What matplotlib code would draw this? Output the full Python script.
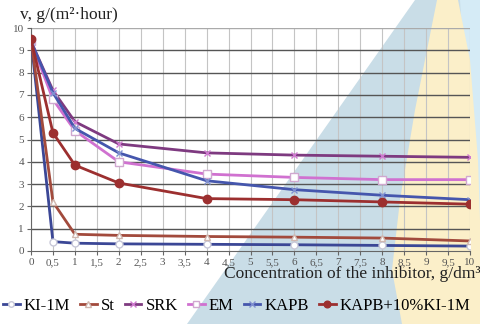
import numpy as np
import matplotlib
matplotlib.use("Agg")
import matplotlib.pyplot as plt
from matplotlib.patches import Polygon

plt.rcParams['font.family'] = ['Liberation Serif', 'DejaVu Serif']

conc = [0, 0.5, 1, 2, 4, 6, 8, 10]
ki1m = [9.5, 0.42, 0.35, 0.32, 0.3, 0.28, 0.25, 0.22]
st = [9.5, 2.2, 0.75, 0.7, 0.65, 0.62, 0.58, 0.45]
srk = [9.4, 7.2, 5.8, 4.8, 4.4, 4.3, 4.25, 4.2]
em = [9.4, 6.8, 5.4, 4.0, 3.45, 3.3, 3.2, 3.2]
kapb = [9.4, 7.1, 5.5, 4.4, 3.15, 2.75, 2.5, 2.3]
kapb_ki = [9.5, 5.3, 3.85, 3.05, 2.35, 2.3, 2.2, 2.1]

x_ticks = np.arange(0, 10.01, 0.5)
x_labels = ['0', '0,5', '1', '1,5', '2', '2,5', '3', '3,5', '4', '4,5', '5',
            '5,5', '6', '6,5', '7', '7,5', '8', '8,5', '9', '9,5', '10']

fig = plt.figure(figsize=(4.81, 3.24), dpi=100)

# decorative background shapes (figure coords)
W, H = 481.0, 324.0
def fp(pts):
    return [(x / W, 1 - y / H) for x, y in pts]

fig.patches.append(Polygon(fp([(415, 0), (481, 0), (481, 324), (187, 324)]),
                           closed=True, transform=fig.transFigure,
                           facecolor='#c9dde7', edgecolor='none', zorder=0))
fig.patches.append(Polygon(fp([(460, 0), (481, 0), (481, 324)]),
                           closed=True, transform=fig.transFigure,
                           facecolor='#d5ebf6', edgecolor='none', zorder=0))
fig.patches.append(Polygon(fp([(437, 0), (458, 0), (470, 60), (478, 160),
                               (481, 250), (481, 324), (402, 324), (392, 270),
                               (400, 200), (415, 110)]),
                           closed=True, transform=fig.transFigure,
                           facecolor='#fbefc9', edgecolor='none', zorder=0))

ax = fig.add_axes([31 / W, 1 - 251 / H, (470 - 31) / W, (251 - 28) / H])
ax.set_zorder(2)
ax.set_facecolor('none')
ax.set_xlim(0, 10)
ax.set_ylim(0, 10)

ax.set_xticks(x_ticks)
ax.set_xticklabels(x_labels)
ax.set_yticks(range(0, 11))
ax.tick_params(labelsize=8, colors='#666666', length=3, width=0.8, pad=2)
for lab in ax.get_xticklabels() + ax.get_yticklabels():
    lab.set_color('#555555')

for v in x_ticks:
    ax.axvline(v, color='#c4c4c4', lw=0.8, zorder=1)
for v in range(1, 11):
    ax.axhline(v, color='#555555' if v < 10 else '#aaaaaa', lw=1.0, zorder=1)

for s in ['top', 'right']:
    ax.spines[s].set_visible(False)
ax.spines['left'].set_color('#666666')
ax.spines['bottom'].set_color('#666666')

ax.plot(conc, ki1m, '-o', color='#3b4796', lw=2, ms=5,
        mfc='white', mec='#c8c8d8', label='KI-1M', zorder=3)
ax.plot(conc, st, '-^', color='#a24a3c', lw=2, ms=5,
        mfc='white', mec='#d0b8b0', label='St', zorder=3)
ax.plot(conc, srk, '-x', color='#7e3a80', lw=2, ms=5,
        mec='#d07ad0', label='SRK', zorder=3)
ax.plot(conc, em, '-s', color='#d071d0', lw=2, ms=6,
        mfc='white', mec='#d0a8d0', label='EM', zorder=3)
ax.plot(conc, kapb, '-x', color='#4556ad', lw=2, ms=5,
        mec='#8090d0', label='KAPB', zorder=3)
ax.plot(conc, kapb_ki, '-o', color='#9c2f2f', lw=2, ms=6,
        mfc='#9c2f2f', mec='#9c2f2f', label='KAPB+10%KI-1M', zorder=4)

fig.text(20 / W, 1 - 15 / H, 'v, g/(m²·hour)', fontsize=12.5,
         va='center', ha='left', color='#222222')
fig.text(1.0, 1 - 274 / H, 'Concentration of the inhibitor, g/dm³',
         fontsize=12.5, va='center', ha='right', color='#222222')

fig.legend(loc='center', bbox_to_anchor=(0.492, 1 - 306 / H), ncol=6,
           frameon=False, fontsize=12, handlelength=1.0,
           handletextpad=0.25, columnspacing=0.6, markerscale=0.8,
           borderaxespad=0, borderpad=0)

fig.savefig('out.png', dpi=100)
